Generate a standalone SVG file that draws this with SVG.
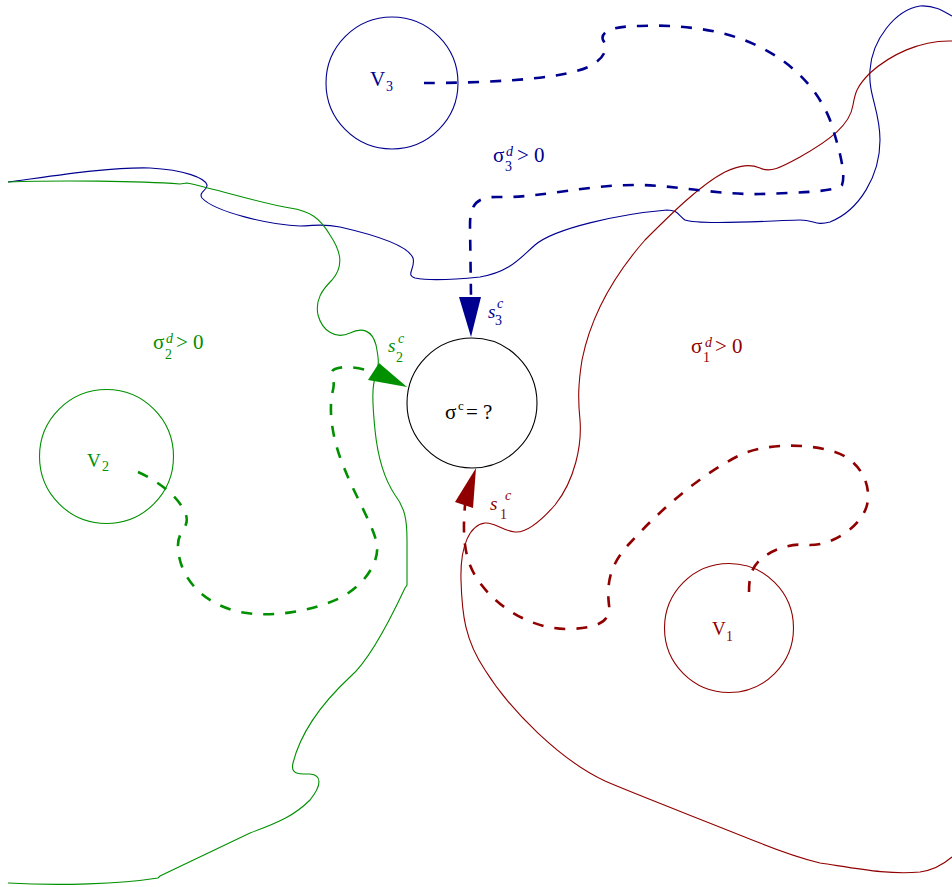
<svg xmlns="http://www.w3.org/2000/svg" width="952" height="887" viewBox="0 0 952 887">
<style>
text{font-family:"Liberation Serif","Times New Roman",serif}
.b{fill:#000090}.g{fill:#009000}.r{fill:#900000}.k{fill:#000}
.it{font-style:italic}
.node{fill:none;stroke-width:1.1}
.bd{fill:none;stroke-width:1.1}
.dash{fill:none;stroke-width:2.6;stroke-dasharray:11 11}
.sb{stroke:#000090}.sg{stroke:#009000}.sr{stroke:#900000}
</style>
<rect width="952" height="887" fill="#fff"/>
<g id="boundaries">
<path class="bd sb" d="M8,182 C60,175 110,167 150,168 C185,170 205,178 207,185 C208,190 198,192 202,198 C215,212 270,225 300,226 C315,226 320,223 340,227 C375,235 408,245 413,258 C416,268 405,275 415,278 C430,281 460,279 480,277 C510,272 520,258 535,245 C555,228 620,214 667,210 C678,210 678,215 685,220 C700,226 780,220 800,220 C815,220 815,226 830,222 C860,210 880,175 880,140 C880,110 868,95 870,70 C872,40 895,10 920,6 C935,5 945,12 952,16"/>
<path class="bd sg" d="M8,182 C60,180 140,181 180,184 L187,183 C220,190 260,203 290,208 C310,211 320,218 330,235 C340,250 345,265 332,280 C322,290 315,300 318,315 C322,330 335,340 350,333 C362,327 372,330 376,345 C378,355 380,365 376,375 C372,385 372,400 375,430 C378,460 385,480 395,495 C405,508 407,520 407,540 L407,585 L405,588 C390,620 370,660 350,677 C320,705 300,735 293,763 C290,775 300,774 310,774 C322,775 322,785 310,800 C295,815 280,822 250,833 L160,876 L158,878 C120,884 60,886 8,883"/>
<path class="bd sr" d="M952,41 C920,40 890,55 870,73 C855,88 855,95 853,105 C850,125 830,140 800,157 C780,168 770,173 760,168 C750,164 740,165 725,172 C700,185 670,215 645,240 C610,280 590,320 582,360 C578,385 578,400 580,420 C582,445 575,480 555,505 C540,522 525,533 515,532 C500,530 495,522 485,523 C470,525 460,545 461,580 C462,615 465,640 485,670 C510,710 560,760 605,781 C630,792 690,815 760,843 C780,851 800,858 820,863 C860,869 890,875 920,872 C935,870 945,863 952,857"/>
</g>
<g id="node-center">
<circle class="node" stroke="#000" cx="472" cy="403" r="65"/>
<text class="k" font-size="21"><tspan x="445" y="419">σ</tspan><tspan x="458" y="410" font-size="13">c</tspan><tspan x="466" y="419">= ?</tspan></text>
</g>
<g id="node-V3">
<circle class="node sb" cx="392" cy="83" r="66"/>
<text class="b" font-size="21"><tspan x="370" y="86">V</tspan><tspan x="386" y="91" font-size="14">3</tspan></text>
</g>
<g id="node-V2">
<circle class="node sg" cx="106.5" cy="456.5" r="67"/>
<text class="g" font-size="19"><tspan x="87" y="467">V</tspan><tspan x="102" y="471" font-size="14">2</tspan></text>
</g>
<g id="node-V1">
<circle class="node sr" cx="729" cy="628" r="64.5"/>
<text class="r" font-size="19"><tspan x="712" y="635">V</tspan><tspan x="726" y="641" font-size="14">1</tspan></text>
</g>
<g id="region-labels">
<text class="b" font-size="21"><tspan x="493" y="162">σ</tspan><tspan x="505" y="171" font-size="14">3</tspan><tspan x="506" y="156" font-size="14" font-style="italic">d</tspan><tspan x="517" y="162">&gt; 0</tspan></text>
<text class="g" font-size="21"><tspan x="153" y="349">σ</tspan><tspan x="165" y="359" font-size="14">2</tspan><tspan x="166" y="343" font-size="14" font-style="italic">d</tspan><tspan x="176" y="349">&gt; 0</tspan></text>
<text class="r" font-size="21"><tspan x="691" y="353">σ</tspan><tspan x="703" y="362" font-size="14">1</tspan><tspan x="705" y="347" font-size="14" font-style="italic">d</tspan><tspan x="715" y="353">&gt; 0</tspan></text>
<text class="b" font-size="19"><tspan x="488" y="318" font-style="italic">s</tspan><tspan x="495" y="325" font-size="14">3</tspan><tspan x="497" y="308" font-size="14" font-style="italic">c</tspan></text>
<text class="g" font-size="19"><tspan x="388" y="352" font-style="italic">s</tspan><tspan x="396" y="362" font-size="14">2</tspan><tspan x="398" y="343" font-size="14" font-style="italic">c</tspan></text>
<text class="r" font-size="19"><tspan x="490" y="510" font-style="italic">s</tspan><tspan x="500" y="519" font-size="14">1</tspan><tspan x="505" y="500" font-size="14" font-style="italic">c</tspan></text>
</g>
<g id="connectors">
<path class="dash sb" d="M424,83 C480,83 560,80 588,67 C606,58 608,48 603,40 C600,32 612,26 640,26 C660,25 680,26 700,29 C760,37 810,70 830,120 C840,150 846,175 842,185 C838,192 790,193 760,194 C720,195 680,186 640,185 C590,184 540,198 500,197 C476,196 470,205 470,225 L471,297"/>
<polygon class="b" points="459,297 481,297 471,337"/>
<path class="dash sg" d="M138,472 C160,482 180,498 186,515 C190,528 178,530 178,545 C178,575 200,603 240,612 C270,618 310,612 340,598 C365,585 382,560 376,540 C370,520 355,495 345,470 C332,440 328,410 333,390 C336,378 328,372 335,369 C345,365 362,368 372,372"/>
<polygon class="g" points="368,380 379,363 407,387"/>
<path class="dash sr" d="M749,592 C749,575 752,565 765,556 C778,547 795,543 810,545 C835,545 862,525 867,505 C872,485 860,460 835,452 C810,444 770,442 740,455 C700,475 660,510 630,543 C612,562 606,580 609,605 C611,620 600,628 570,629 C535,630 500,610 480,583 C465,563 462,540 465,505"/>
<polygon class="r" points="455,502 473,508 476,468"/>
</g>
</svg>
